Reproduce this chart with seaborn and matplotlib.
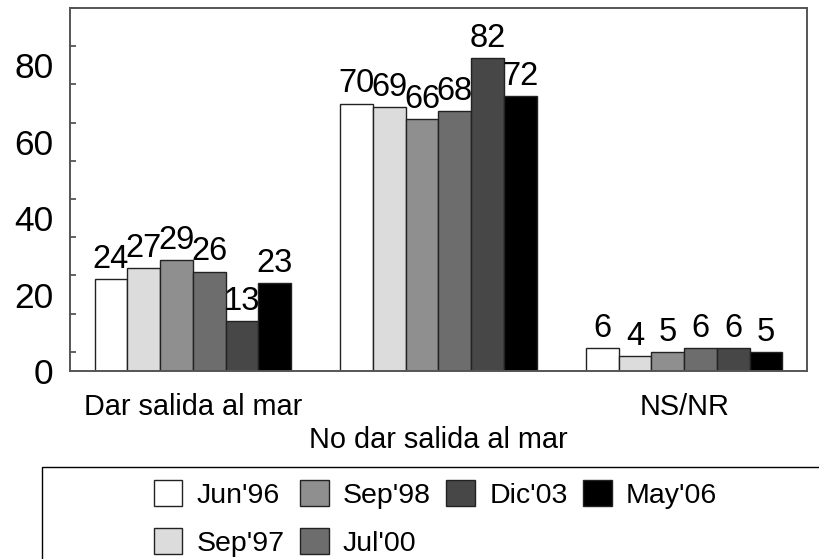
import pandas as pd
import seaborn as sns
import matplotlib.pyplot as plt
from matplotlib.patches import Rectangle
from matplotlib.ticker import MultipleLocator

# Datos
categorias = ["Dar salida al mar", "No dar salida al mar", "NS/NR"]
encuestas = ["Jun'96", "Sep'97", "Sep'98", "Jul'00", "Dic'03", "May'06"]
dar_salida = [24, 27, 29, 26, 13, 23]
no_dar_salida = [70, 69, 66, 68, 82, 72]
ns_nr = [6, 4, 5, 6, 6, 5]

colores = ["#ffffff", "#dcdcdc", "#8f8f8f", "#6d6d6d", "#474747", "#000000"]

filas = []
for cat, valores in zip(categorias, [dar_salida, no_dar_salida, ns_nr]):
    for enc, v in zip(encuestas, valores):
        filas.append({"categoria": cat, "encuesta": enc, "valor": v})
df = pd.DataFrame(filas)

sns.set_style("white")
plt.rcParams["font.family"] = ["Liberation Sans", "DejaVu Sans"]
plt.rcParams["text.color"] = "black"

fig = plt.figure(figsize=(8.19, 5.59), dpi=100)
ax = fig.add_axes([0.0855, 0.3363, 0.8998, 0.6494])

sns.barplot(data=df, x="categoria", y="valor", hue="encuesta",
            hue_order=encuestas, palette=colores, edgecolor="#222222",
            linewidth=1.0, width=0.8, ax=ax)

for cont in ax.containers:
    ax.bar_label(cont, fmt="%d", padding=3, fontsize=23.5, color="black")

ax.set_xlim(-0.5, 2.5)
ax.set_ylim(0, 95)
ax.set_xlabel("")
ax.set_ylabel("")

# etiquetas de categoria escalonadas
ax.set_xticks(range(3), labels=[categorias[0], "\n" + categorias[1], categorias[2]])
ax.tick_params(axis="x", length=0, pad=16, labelsize=20.8, labelcolor="black")

ax.yaxis.set_minor_locator(MultipleLocator(5))
ax.set_yticks(range(0, 91, 10), labels=[str(v) if v % 20 == 0 else "" for v in range(0, 91, 10)])
ax.tick_params(axis="y", which="major", direction="in", length=8.5, width=1.3,
               color="#555555", labelsize=25.5, pad=12, labelcolor="black")
ax.tick_params(axis="y", which="minor", direction="in", length=4.3, width=1.3,
               color="#555555", left=True)

for s in ax.spines.values():
    s.set_visible(True)
    s.set_color("#555555")
    s.set_linewidth(1.4)

# leyenda abajo con marco que sale de la figura
handles, labels = ax.get_legend_handles_labels()
ax.get_legend().remove()
fig.legend(handles, labels, ncol=4, loc="center", bbox_to_anchor=(0.5317, 0.0725),
           frameon=False, fontsize=20.5, handlelength=1.0, handleheight=1.0,
           handletextpad=0.5, columnspacing=0.55, labelspacing=0.68,
           labelcolor="black")
fig.add_artist(Rectangle((42 / 819, -0.1), 1.0, 0.1 + 92 / 559, transform=fig.transFigure,
                         fill=False, edgecolor="black", linewidth=1.0, clip_on=False))

fig.savefig("out.png", dpi=100)
plt.close()
